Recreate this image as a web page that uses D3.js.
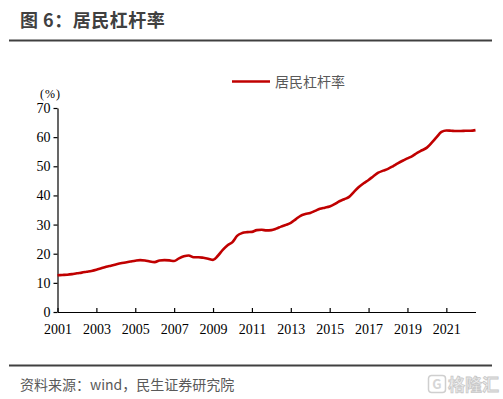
<!DOCTYPE html>
<html><head><meta charset="utf-8">
<script src="https://cdn.jsdelivr.net/npm/d3@7"></script>
<style>body{margin:0;background:#fff}svg{display:block}</style>
</head><body>
<svg id="c" width="503" height="399"></svg>
<script>
const title = "图 6：居民杠杆率";
const seriesName = "居民杠杆率";
const source = "资料来源：wind，民生证券研究院";
const years = [2001,2002,2003,2004,2005,2006,2007,2008,2009,2010,2011,2012,2013,2014,2015,2016,2017,2018,2019,2020,2021,2022];
const quarters = [];
years.forEach(y => [1,2,3,4].forEach(q => { if (!(y === 2022 && q === 4)) quarters.push(y + "Q" + q); }));
const leverage = [
  12.6,12.7,12.8,13.0,
  13.3,13.5,13.8,14.1,
  14.5,15.0,15.5,15.9,
  16.3,16.7,17.0,17.3,
  17.6,17.8,17.7,17.3,
  17.1,17.7,17.8,17.7,
  17.5,18.4,19.1,19.4,
  18.8,18.8,18.6,18.3,
  17.9,19.3,21.3,22.9,
  24.0,26.2,27.1,27.4,
  27.5,28.1,28.2,28.0,
  28.1,28.6,29.3,29.9,
  30.6,31.8,33.0,33.6,
  34.0,34.7,35.4,35.8,
  36.2,37.0,38.0,38.7,
  39.5,41.2,42.9,44.2,
  45.3,46.6,47.8,48.5,
  49.1,50.0,51.0,51.9,
  52.7,53.5,54.6,55.5,
  56.4,58.1,60.0,61.8,
  62.3,62.2,62.1,62.1,
  62.2,62.2,62.4
];
const yTicks = [0,10,20,30,40,50,60,70];
const xTickYears = [2001,2003,2005,2007,2009,2011,2013,2015,2017,2019,2021];

const svg = d3.select("#c");
const serif = "'Liberation Serif','Times New Roman',serif";
const cjk = "'Noto Sans CJK SC','Noto Sans',sans-serif";

// title & rules
svg.append("text").attr("x",20).attr("y",27).attr("font-family",cjk).attr("font-weight","bold")
  .attr("font-size",18).attr("letter-spacing",0.5).attr("fill","#404040").text(title);
svg.append("line").attr("x1",9).attr("x2",492).attr("y1",40.5).attr("y2",40.5).attr("stroke","#404040").attr("stroke-width",2);
svg.append("line").attr("x1",9).attr("x2",492).attr("y1",365.5).attr("y2",365.5).attr("stroke","#404040").attr("stroke-width",2);
svg.append("text").attr("x",20).attr("y",390).attr("font-family",cjk).attr("font-size",14)
  .attr("fill","#595959").text(source);

// watermark
const wm = svg.append("g").attr("transform","translate(428,375)");
wm.append("rect").attr("x",0.5).attr("y",0.5).attr("width",17).attr("height",17).attr("rx",3)
  .attr("fill","none").attr("stroke","#cfcfcf").attr("stroke-width",1.5);
wm.append("text").attr("x",9).attr("y",14).attr("text-anchor","middle").attr("font-family",cjk)
  .attr("font-weight","bold").attr("font-size",13).attr("fill","#d6d6d6").text("G");
wm.append("text").attr("x",20).attr("y",16).attr("font-family",cjk).attr("font-weight","bold")
  .attr("font-size",17).attr("fill","#eeeeee").attr("stroke","#c8c8c8").attr("stroke-width",0.8).text("格隆汇");

// scales
const x = d3.scaleLinear().domain([0, quarters.length - 1]).range([57.5, 475.5]);
const y = d3.scaleLinear().domain([0, 70]).range([312, 108]);

// y axis
const yAxis = d3.axisLeft(y).tickValues(yTicks).tickSize(4).tickPadding(3).tickSizeOuter(0);
const gy = svg.append("g").attr("transform","translate(57.5,0)").call(yAxis);
gy.select(".domain").attr("stroke","#000").attr("stroke-width",1.2);
gy.selectAll(".tick line").attr("stroke","#000").attr("stroke-width",1.2);
gy.selectAll(".tick text").attr("font-family",serif).attr("font-size",14).attr("fill","#000");

// x axis
const xAxis = d3.axisBottom(x).tickValues(xTickYears.map(yr => quarters.indexOf(yr + "Q1")))
  .tickFormat(i => quarters[i].slice(0,4)).tickSize(-4).tickPadding(12).tickSizeOuter(0);
const gx = svg.append("g").attr("transform","translate(0,312)").call(xAxis);
gx.select(".domain").attr("stroke","#000").attr("stroke-width",1.2);
gx.selectAll(".tick line").attr("stroke","#000").attr("stroke-width",1.2);
gx.selectAll(".tick text").attr("font-family",serif).attr("font-size",14).attr("fill","#000");

svg.append("text").attr("x",40).attr("y",98).attr("font-family",serif).attr("font-size",12)
  .attr("letter-spacing",1).attr("fill","#000").text("(%)");

// line
const line = d3.line().x((d,i) => x(i)).y(d => y(d)).curve(d3.curveMonotoneX);
svg.append("path").datum(leverage).attr("d",line).attr("fill","none")
  .attr("stroke","#C00000").attr("stroke-width",2.6).attr("stroke-linejoin","round");

// legend
svg.append("line").attr("x1",232).attr("x2",270).attr("y1",81.5).attr("y2",81.5)
  .attr("stroke","#C00000").attr("stroke-width",2.6);
svg.append("text").attr("x",275).attr("y",87).attr("font-family",cjk).attr("font-size",14)
  .attr("fill","#595959").text(seriesName);
</script>
</body></html>
